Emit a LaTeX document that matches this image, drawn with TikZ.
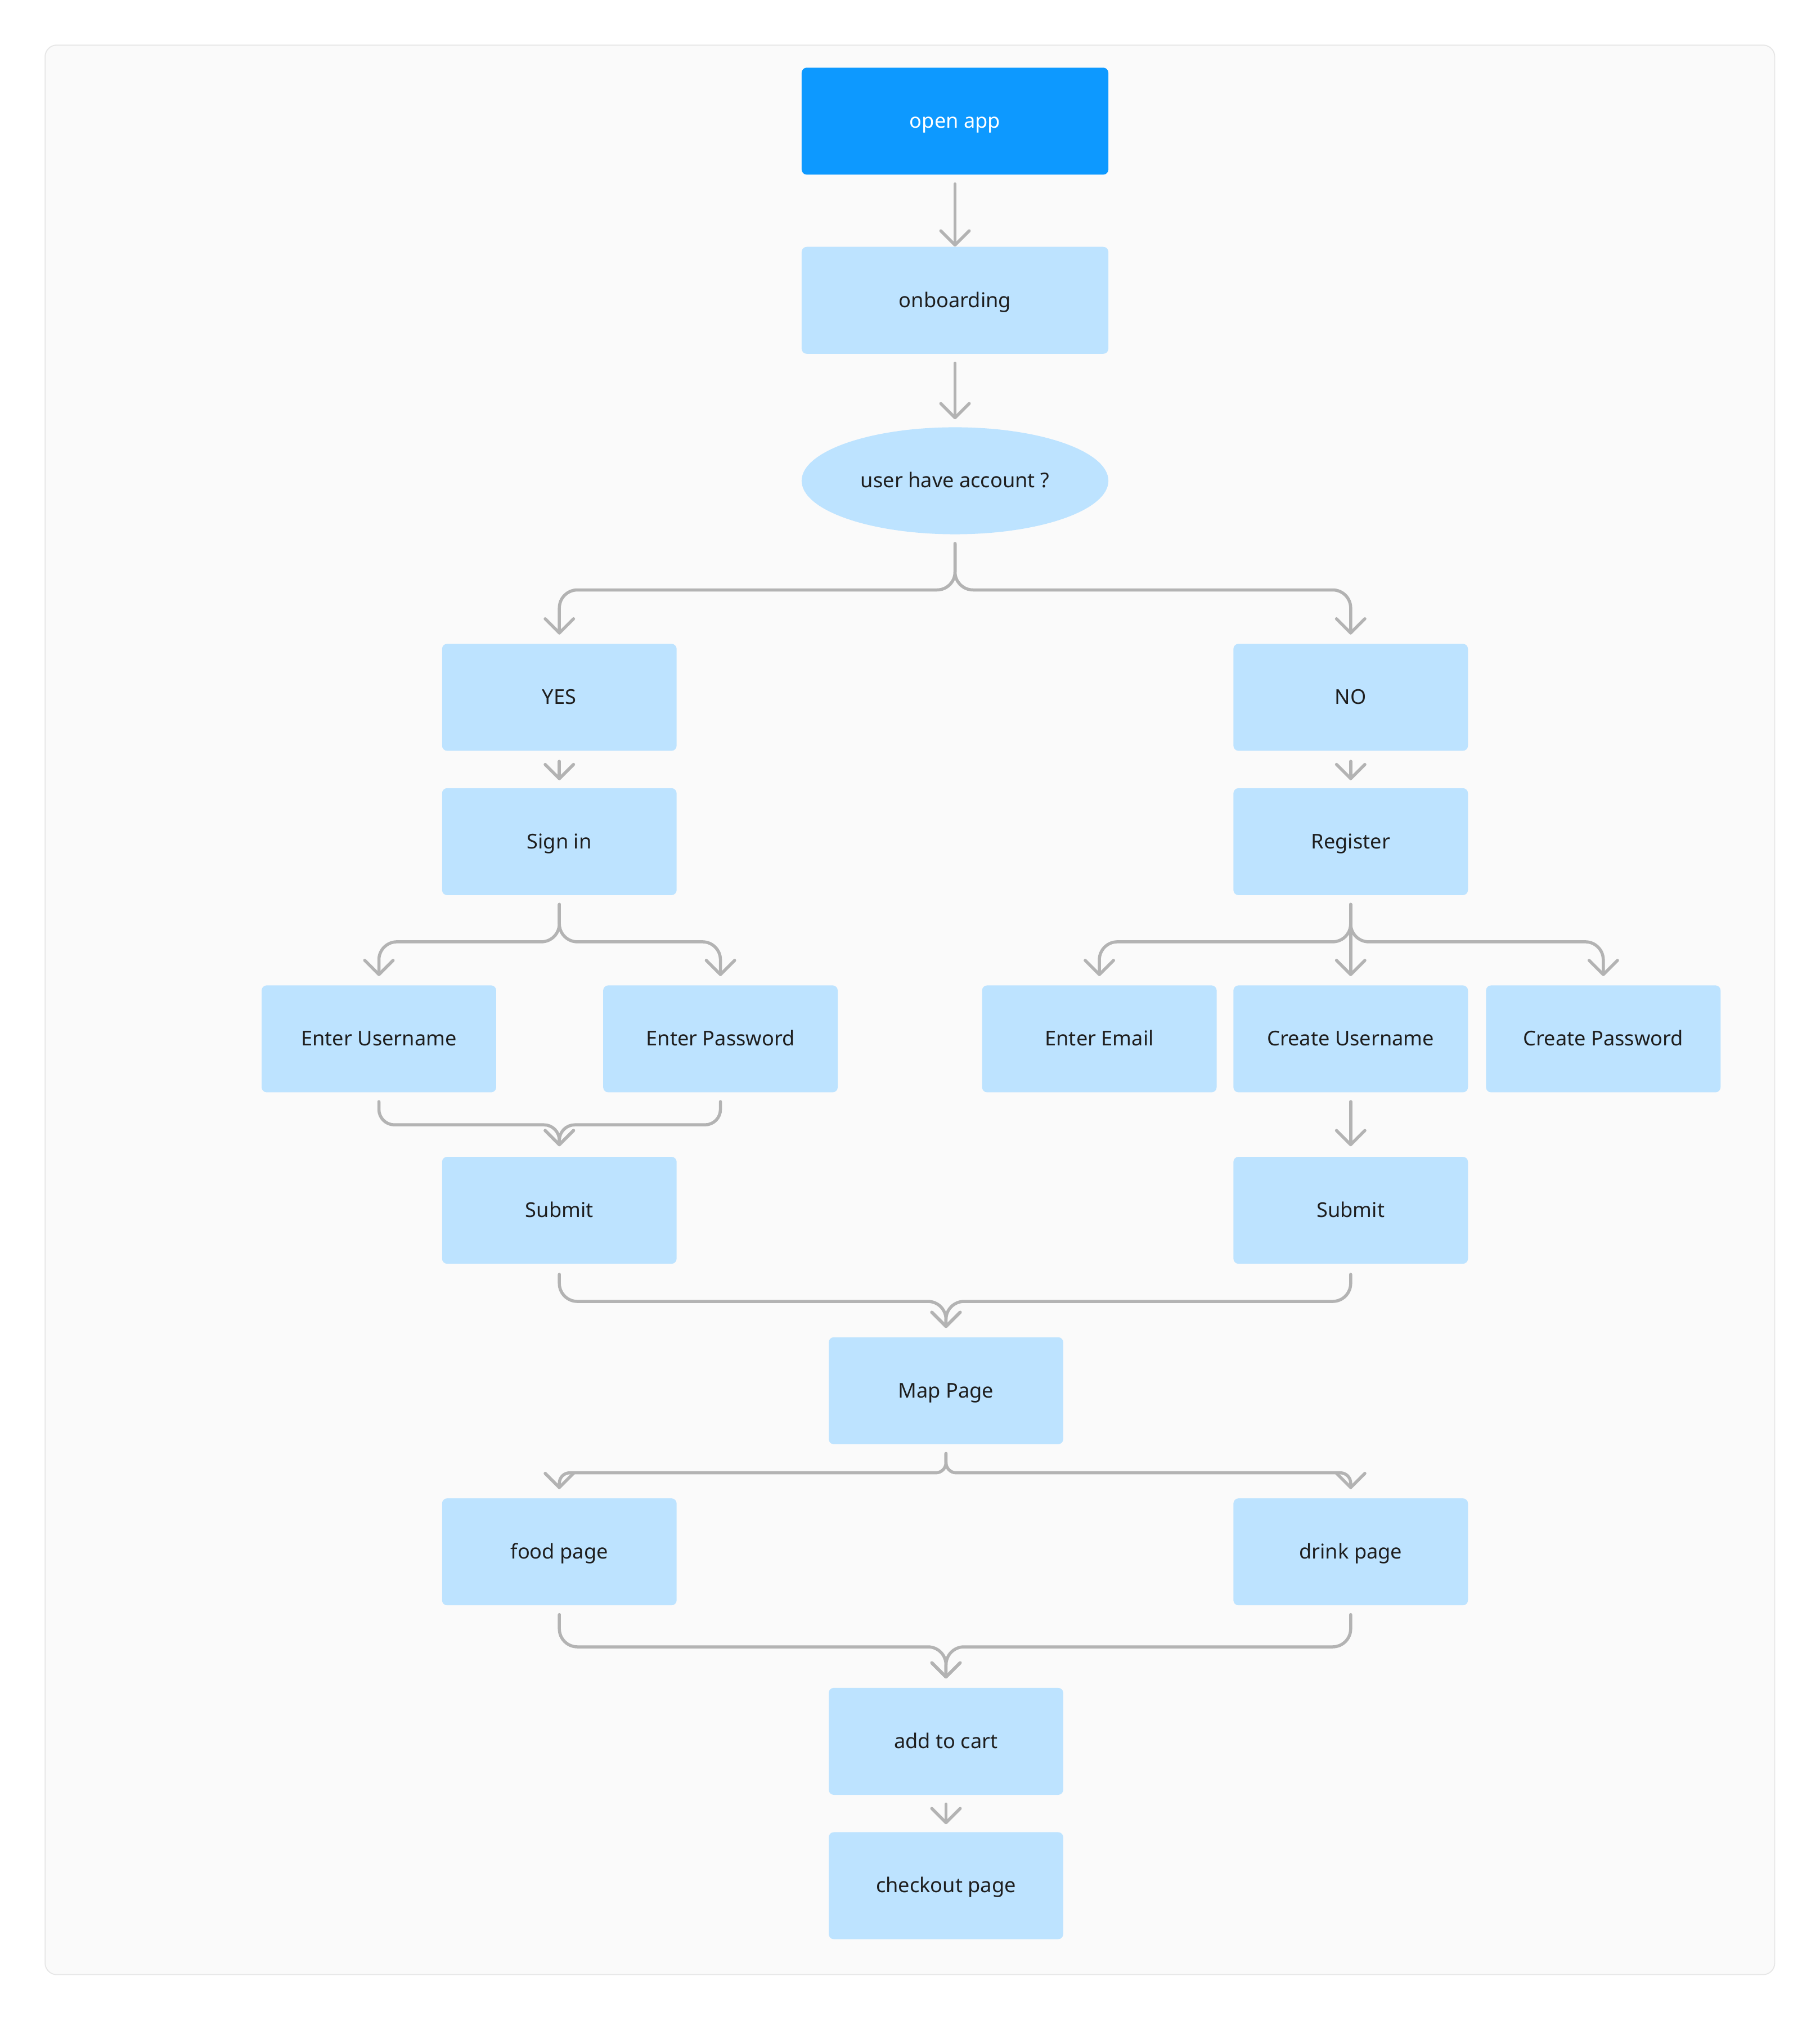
\documentclass[tikz,border=0pt]{standalone}
\usepackage{fontspec}
\setmainfont{Noto Sans}
\usetikzlibrary{shapes.geometric,arrows.meta}
\definecolor{framefill}{HTML}{FAFAFA}
\definecolor{framedraw}{HTML}{E6E6E6}
\definecolor{boxfill}{HTML}{BDE3FF}
\definecolor{startfill}{HTML}{0D99FF}
\definecolor{txt}{HTML}{1E1E1E}
\definecolor{connc}{HTML}{B3B3B3}
\begin{document}
\begin{tikzpicture}[x=1pt,y=-1pt,
  box/.style={rectangle, rounded corners=4pt, fill=boxfill, text=txt,
    minimum width=182pt, minimum height=83pt, inner sep=0pt,
    text height=10.8pt, text depth=0pt,
    font=\fontsize{15.8}{19}\selectfont},
  widebox/.style={box, minimum width=238pt},
  startbox/.style={widebox, fill=startfill, text=white},
  decision/.style={ellipse, fill=boxfill, text=txt, minimum width=238pt,
    minimum height=83pt, inner sep=0pt, text height=10.8pt, text depth=0pt,
    font=\fontsize{15.8}{19}\selectfont},
  conn/.style={draw=connc, line width=2.4pt, line cap=round,
    -{Straight Barb[length=11pt,width=22pt,round]}},
  fork/.style={conn, rounded corners=14pt},
  forkm/.style={conn, rounded corners=12pt},
  forks/.style={conn, rounded corners=8pt}
]
\fill[white] (0,0) rectangle (1412,1568);
\useasboundingbox (0,0) rectangle (1412,1568);
\draw[draw=framedraw, fill=framefill, line width=0.8pt, rounded corners=9pt]
  (35,35) rectangle (1377,1532);

\node[startbox] (open) at (741,94) {open app};
\node[widebox] (onb) at (741,233) {onboarding};
\node[decision] (dec) at (741,373) {user have account ?};
\node[box] (yes) at (434,541) {YES};
\node[box] (no) at (1048,541) {NO};
\node[box] (signin) at (434,653) {Sign in};
\node[box] (reg) at (1048,653) {Register};
\node[box] (eu) at (294,806) {Enter Username};
\node[box] (ep) at (559,806) {Enter Password};
\node[box] (ee) at (853,806) {Enter Email};
\node[box] (cu) at (1048,806) {Create Username};
\node[box] (cp) at (1244,806) {Create Password};
\node[box] (subl) at (434,939) {Submit};
\node[box] (subr) at (1048,939) {Submit};
\node[box] (map) at (734,1079) {Map Page};
\node[box] (food) at (434,1204) {food page};
\node[box] (drink) at (1048,1204) {drink page};
\node[box] (cart) at (734,1351) {add to cart};
\node[box] (check) at (734,1463) {checkout page};

\draw[conn] ([yshift=-7pt]open.south) -- (onb.north);
\draw[conn] ([yshift=-7pt]onb.south) -- ([yshift=6pt]dec.north);
\draw[fork] ([yshift=-7pt]dec.south) -- ++(0,36) -| ([yshift=7pt]yes.north);
\draw[fork] ([yshift=-7pt]dec.south) -- ++(0,36) -| ([yshift=7pt]no.north);
\draw[conn] ([yshift=-8pt]yes.south) -- ([yshift=6pt]signin.north);
\draw[conn] ([yshift=-8pt]no.south) -- ([yshift=6pt]reg.north);
\draw[fork] ([yshift=-7pt]signin.south) -- ++(0,29) -| ([yshift=7pt]eu.north);
\draw[fork] ([yshift=-7pt]signin.south) -- ++(0,29) -| ([yshift=7pt]ep.north);
\draw[fork] ([yshift=-7pt]reg.south) -- ++(0,29) -| ([yshift=7pt]ee.north);
\draw[conn] ([yshift=-7pt]reg.south) -- ([yshift=7pt]cu.north);
\draw[fork] ([yshift=-7pt]reg.south) -- ++(0,29) -| ([yshift=7pt]cp.north);
\draw[forkm] ([yshift=-7pt]eu.south) -- ++(0,18) -| ([yshift=8pt]subl.north);
\draw[forkm] ([yshift=-7pt]ep.south) -- ++(0,18) -| ([yshift=8pt]subl.north);
\draw[conn] ([yshift=-7pt]cu.south) -- ([yshift=8pt]subr.north);
\draw[fork] ([yshift=-8pt]subl.south) -- ++(0,21) -| ([yshift=7pt]map.north);
\draw[fork] ([yshift=-8pt]subr.south) -- ++(0,21) -| ([yshift=7pt]map.north);
\draw[forks] ([yshift=-7pt]map.south) -- ++(0,15) -| ([yshift=7pt]food.north);
\draw[forks] ([yshift=-7pt]map.south) -- ++(0,15) -| ([yshift=7pt]drink.north);
\draw[fork] ([yshift=-7pt]food.south) -- ++(0,25) -| ([yshift=7pt]cart.north);
\draw[fork] ([yshift=-7pt]drink.south) -- ++(0,25) -| ([yshift=7pt]cart.north);
\draw[conn] ([yshift=-7pt]cart.south) -- ([yshift=6pt]check.north);
\end{tikzpicture}
\end{document}
